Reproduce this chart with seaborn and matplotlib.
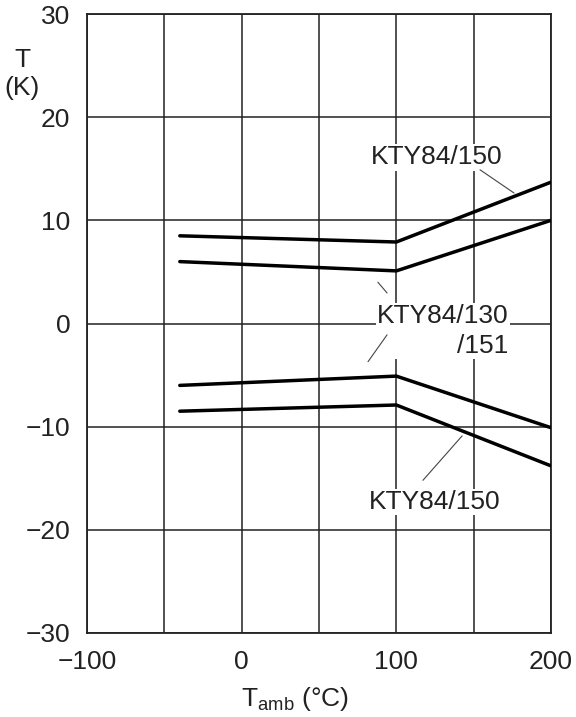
import matplotlib
matplotlib.use("Agg")
import matplotlib.pyplot as plt
import seaborn as sns
import pandas as pd
import numpy as np

# ---- data ----
temps = [-40, 100, 200]
upper_150 = [8.5, 7.9, 13.7]
upper_130 = [6.0, 5.1, 10.0]
lower_130 = [-6.0, -5.1, -10.1]
lower_150 = [-8.5, -7.9, -13.8]
series_names = ["upper_150", "upper_130", "lower_130", "lower_150"]
x_ticks = [-100, 0, 100, 200]
y_ticks = [-30, -20, -10, 0, 10, 20, 30]

df = pd.concat([
    pd.DataFrame({"T_amb": temps, "dT": vals, "series": name})
    for name, vals in zip(series_names, [upper_150, upper_130, lower_130, lower_150])
])

sns.set_style("white")
plt.rcParams["font.family"] = ["Liberation Sans", "DejaVu Sans"]
plt.rcParams["mathtext.fontset"] = "custom"
plt.rcParams["mathtext.rm"] = "Liberation Sans"
plt.rcParams["mathtext.it"] = "Liberation Sans"

fig = plt.figure(figsize=(5.76, 7.17), dpi=100)
ax = fig.add_axes([87/576, 1-633/717, (551-87)/576, (633-14)/717])

sns.lineplot(data=df, x="T_amb", y="dT", units="series", estimator=None,
             color="black", linewidth=2.5, ax=ax, legend=False, zorder=3)

ax.set_xlim(-100, 200)
ax.set_ylim(-30, 30)
ax.set_xticks(x_ticks)
ax.set_xticks([-50, 50, 150], minor=True)
ax.set_yticks(y_ticks)
ax.set_yticklabels([f"{v}" if v >= 0 else f"\u2212{abs(v)}" for v in y_ticks])
ax.grid(True, which="both", color="#222222", linewidth=1.1, zorder=1)
ax.set_axisbelow(True)
for s in ax.spines.values():
    s.set_color("#222222")
    s.set_linewidth(1.3)
ax.tick_params(axis="both", which="both", length=0, pad=12, labelsize=19, colors="#222222")
ax.set_xlabel("")
ax.set_ylabel("")

fs = 19
tc = "#222222"
box = dict(facecolor="white", edgecolor="none", pad=1)
ax.text(126.3, 16.1, "KTY84/150", ha="center", va="center", fontsize=fs, color=tc, bbox=box, zorder=2)
ax.plot([154.1, 176.1], [14.9, 12.65], color="#444444", linewidth=0.8, zorder=2)

ax.text(87.5, -0.7, "KTY84/130\n/151", ha="left", va="center", multialignment="right",
        fontsize=fs, color=tc, bbox=box, zorder=2, linespacing=1.3)
ax.plot([88.1, 94.0], [4.0, 2.96], color="#444444", linewidth=0.8, zorder=2)
ax.plot([94.0, 81.7], [-1.1, -3.7], color="#444444", linewidth=0.8, zorder=2)

ax.text(125.0, -17.3, "KTY84/150", ha="center", va="center", fontsize=fs, color=tc, bbox=box, zorder=2)
ax.plot([117.2, 142.5], [-15.2, -10.9], color="#444444", linewidth=0.8, zorder=2)

fig.text(22/576, 1-74/717, "T\n(K)", ha="center", va="center", fontsize=fs, color=tc, linespacing=1.25)
fig.text(295/576, 1-706/717, r"T$_{\mathrm{amb}}$ (°C)", ha="center", va="baseline", fontsize=fs, color=tc)

fig.savefig("out.png", dpi=100)
